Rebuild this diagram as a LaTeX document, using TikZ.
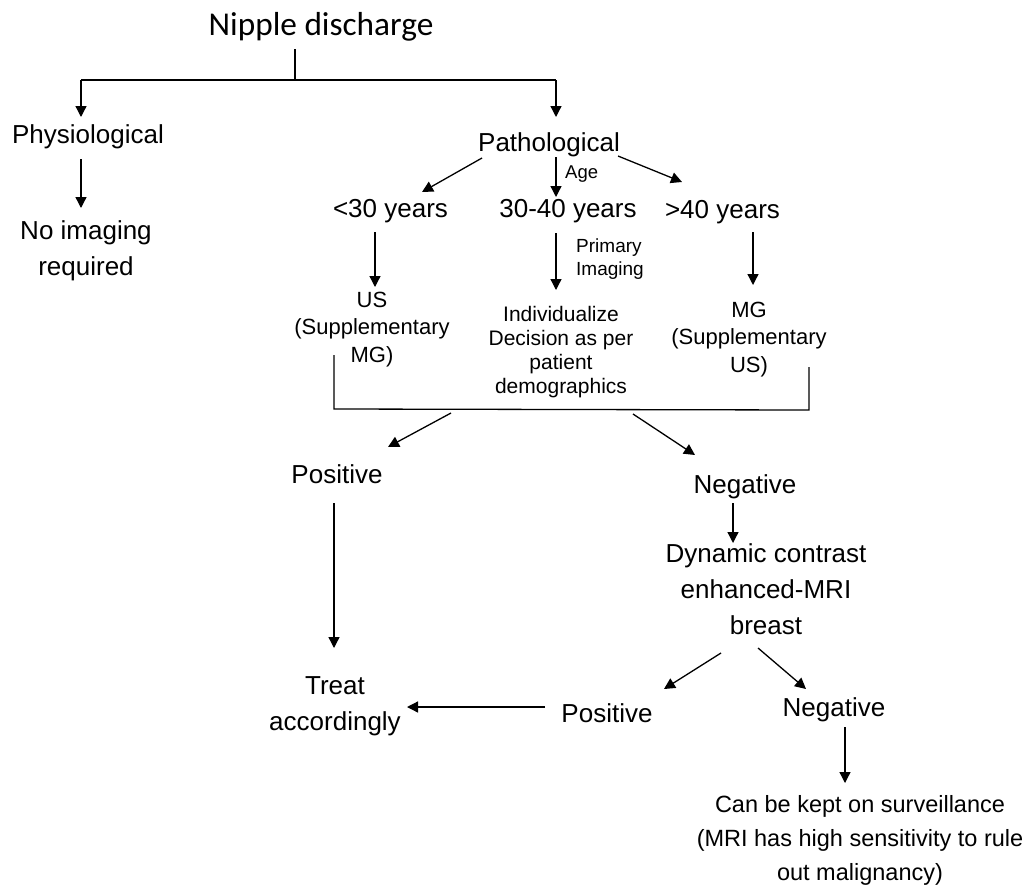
\documentclass[tikz,border=0pt]{standalone}
\usepackage{fontspec}
\setmainfont{Liberation Sans}
\newfontfamily\titlefont{Carlito}
\usetikzlibrary{arrows.meta}
\tikzset{
  txt/.style={inner sep=0pt, anchor=base, align=center, font=\fontsize{26}{36}\selectfont},
  midtxt/.style={txt, font=\fontsize{22}{27.5}\selectfont},
  indtxt/.style={txt, font=\fontsize{21}{23.7}\selectfont},
  smalltxt/.style={inner sep=0pt, anchor=base west, align=left, font=\fontsize{19}{23}\selectfont},
  survtxt/.style={txt, font=\fontsize{23.5}{34}\selectfont},
  conn/.style={line width=1.3pt, -{Triangle[length=11pt,width=11pt]}},
  plain/.style={line width=1.3pt}
}
\begin{document}
\begin{tikzpicture}[x=1pt,y=-1pt]
\useasboundingbox[fill=white] (0,0) rectangle (1033,886);
% nodes (multi-line nodes are placed by the baseline of their last line)
\node[txt, font=\titlefont\fontsize{33.3}{40}\selectfont] (nd) at (321,35) {Nipple discharge};
\node[txt] (phy) at (88,143) {Physiological};
\node[txt] (noimg) at (86,275) {No imaging\\required};
\node[txt] (path) at (549,151) {Pathological};
\node[smalltxt, font=\fontsize{18.5}{22}\selectfont] (age) at (565,178) {Age};
\node[txt] (lt30) at (390.5,217) {<30 years};
\node[txt] (y3040) at (568,217) {30-40 years};
\node[txt] (gt40) at (722.5,218) {>40 years};
\node[smalltxt] (prim) at (576,275) {Primary\\Imaging};
\node[midtxt] (us) at (372,362) {US\\(Supplementary\\MG)};
\node[indtxt] (ind) at (561,393) {Individualize\\Decision as per\\patient\\demographics};
\node[midtxt] (mg) at (749,372) {MG\\(Supplementary\\US)};
\node[txt] (pos1) at (337,483) {Positive};
\node[txt] (neg1) at (745,493) {Negative};
\node[txt] (dce) at (766,634) {Dynamic contrast\\enhanced-MRI\\breast};
\node[txt] (treat) at (335,730) {Treat\\accordingly};
\node[txt] (pos2) at (607,722) {Positive};
\node[txt] (neg2) at (834,716) {Negative};
\node[survtxt] (surv) at (860,880) {Can be kept on surveillance\\(MRI has high sensitivity to rule\\out malignancy)};
% connector end points
\coordinate (ndS) at (295,49);
\coordinate (ndJ) at (295,80);
\coordinate (jL) at (81,80);
\coordinate (jR) at (556,80);
\coordinate (phyT) at (81,117);
\coordinate (pathT) at (556,117);
\coordinate (phyS) at (81,159);
\coordinate (noimgT) at (81,208);
\coordinate (pathSW) at (482,158);
\coordinate (lt30N) at (422,192);
\coordinate (pathS) at (556,157);
\coordinate (y3040N) at (556,197);
\coordinate (pathSE) at (618,156);
\coordinate (gt40N) at (682,182);
\coordinate (lt30S) at (375,232);
\coordinate (usN) at (375,287);
\coordinate (y3040S) at (556,233);
\coordinate (indN) at (556,290);
\coordinate (gt40S) at (753,232);
\coordinate (mgN) at (753,285);
\coordinate (bL) at (334,355);
\coordinate (bLB) at (334,409);
\coordinate (bRB) at (809,410);
\coordinate (bR) at (809,367);
\coordinate (bA1) at (451,413);
\coordinate (pos1N) at (388,447);
\coordinate (bA2) at (633,414);
\coordinate (neg1N) at (695,455);
\coordinate (pos1S) at (334,503);
\coordinate (treatN) at (334,648);
\coordinate (neg1S) at (733,503);
\coordinate (dceN) at (733,543);
\coordinate (dceSW) at (721,653);
\coordinate (pos2N) at (664,689);
\coordinate (dceSE) at (758,648);
\coordinate (neg2N) at (806,689);
\coordinate (pos2W) at (545,707);
\coordinate (treatE) at (407,707);
\coordinate (neg2S) at (845,727);
\coordinate (survN) at (845,783);
% connectors
\draw[plain] (ndS) -- (ndJ);
\draw[plain] (jL) -- (jR);
\draw[conn] (jL) -- (phyT);
\draw[conn] (jR) -- (pathT);
\draw[conn] (phyS) -- (noimgT);
\draw[conn] (pathSW) -- (lt30N);
\draw[conn] (pathS) -- (y3040N);
\draw[conn] (pathSE) -- (gt40N);
\draw[conn] (lt30S) -- (usN);
\draw[conn] (y3040S) -- (indN);
\draw[conn] (gt40S) -- (mgN);
\draw[plain] (bL) -- (bLB) -- (bRB) -- (bR);
\draw[conn] (bA1) -- (pos1N);
\draw[conn] (bA2) -- (neg1N);
\draw[conn] (pos1S) -- (treatN);
\draw[conn] (neg1S) -- (dceN);
\draw[conn] (dceSW) -- (pos2N);
\draw[conn] (dceSE) -- (neg2N);
\draw[conn] (pos2W) -- (treatE);
\draw[conn] (neg2S) -- (survN);
\end{tikzpicture}
\end{document}
